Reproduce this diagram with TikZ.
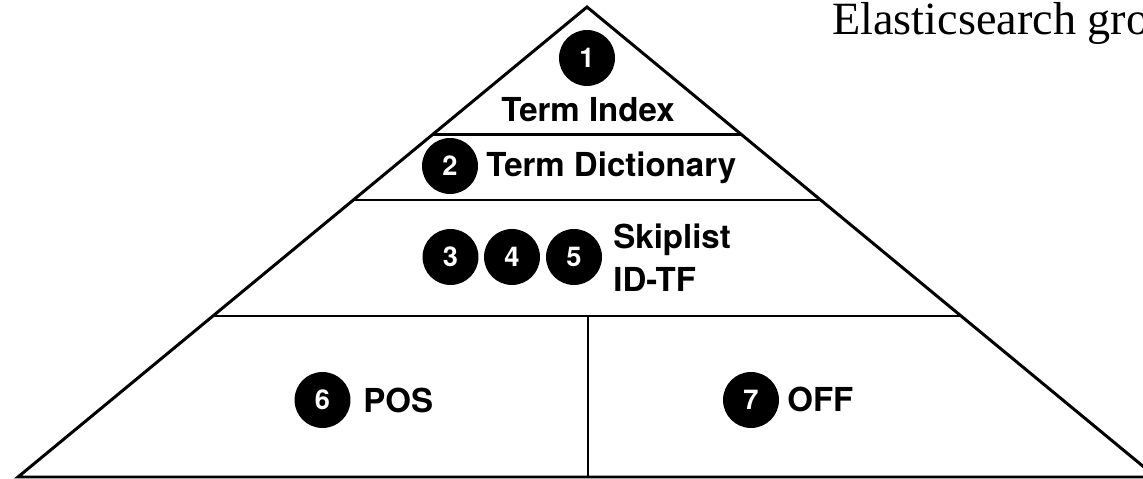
\documentclass[tikz,border=0pt]{standalone}
\usepackage{fontspec}
\setmainfont{Liberation Serif}
\newfontfamily\heros{TeX Gyre Heros}
\begin{document}
\begin{tikzpicture}[x=0.02cm,y=-0.02cm,
  edge/.style={line width=1.7pt, line join=miter},
  num/.style={circle, fill=black, minimum size=1.12cm, inner sep=0pt, text=white, font=\heros\fontsize{15.5}{17}\selectfont\bfseries},
  lbl/.style={inner sep=0pt, font=\heros\fontsize{18.8}{20}\selectfont\bfseries},
  titletext/.style={inner sep=0pt, font=\fontsize{26.3}{28}\selectfont}]
\useasboundingbox (0,0) rectangle (1143,479);
\clip (0,0) rectangle (1143,479);
\fill[white] (0,0) rectangle (1143,479);
\coordinate (apex) at (587,7);
\coordinate (bl) at (18,477);
\coordinate (br) at (1156,477);
\draw[edge] (bl) -- (apex) -- (br) -- cycle;
\draw[edge] (432.6,134.5) -- (741.4,134.5);
\draw[edge] (353.3,200) -- (820.7,200);
\draw[edge] (212.9,316) -- (961.1,316);
\coordinate (vtop) at (588,316);
\coordinate (vbot) at (588,477);
\draw[edge] (vtop) -- (vbot);
% circles
\node[num] (n1) at (587,58) {1};
\node[num] (n2) at (450,166) {2};
\node[num] (n3) at (450.5,257) {3};
\node[num] (n4) at (512,257) {4};
\node[num] (n5) at (574,257) {5};
\node[num] (n6) at (322.5,400) {6};
\node[num] (n7) at (751,400) {7};
% labels
\node[lbl, anchor=base] (ti) at (588,122) {Term Index};
\node[lbl, anchor=base west] (td) at (486,177) {Term Dictionary};
\node[lbl, anchor=base west] (sk) at (613,249) {Skiplist};
\node[lbl, anchor=base west] (idtf) at (613,292) {ID-TF};
\node[lbl, anchor=base west] (pos) at (363,413) {POS};
\node[lbl, anchor=base west] (off) at (787,412) {OFF};
\node[titletext, anchor=base west] (title) at (832,35) {Elasticsearch gro};
\end{tikzpicture}
\end{document}
